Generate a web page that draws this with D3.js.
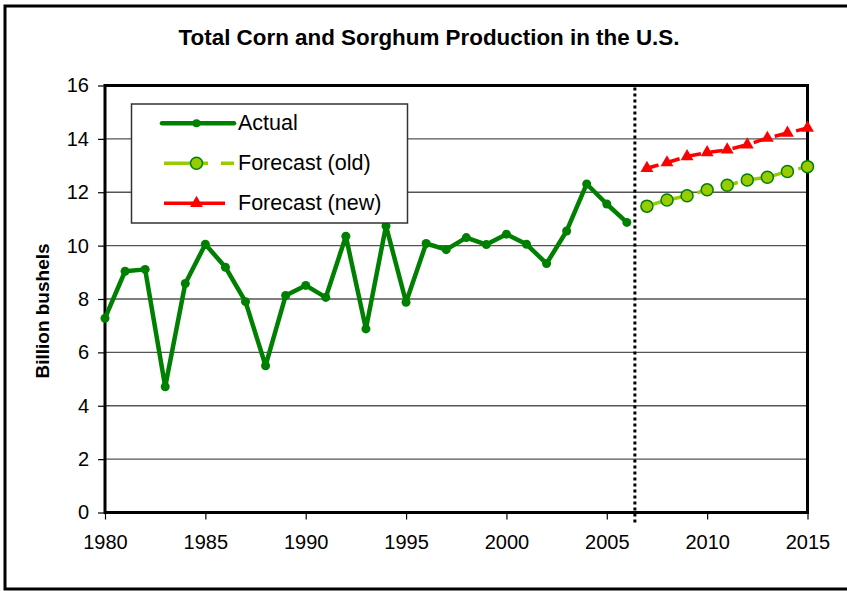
<!DOCTYPE html>
<html>
<head>
<meta charset="utf-8">
<title>Total Corn and Sorghum Production in the U.S.</title>
<script src="https://d3js.org/d3.v7.min.js"></script>
<style>
body { margin: 0; background: #fff; }
text { font-family: "Liberation Sans", Arial, sans-serif; fill: #000; }
</style>
</head>
<body>
<div id="container"></div>
<script>

//----------------------------DATA-------------------------------//
var actualYears = [1980, 1981, 1982, 1983, 1984, 1985, 1986, 1987, 1988, 1989,
                   1990, 1991, 1992, 1993, 1994, 1995, 1996, 1997, 1998, 1999,
                   2000, 2001, 2002, 2003, 2004, 2005, 2006];
var actualValues = [7.28, 9.04, 9.11, 4.71, 8.58, 10.05, 9.19, 7.9, 5.5, 8.13,
                    8.51, 8.06, 10.35, 6.88, 10.74, 7.88, 10.08, 9.85, 10.3, 10.04,
                    10.43, 10.05, 9.33, 10.55, 12.31, 11.56, 10.87];

var forecastYears = [2007, 2008, 2009, 2010, 2011, 2012, 2013, 2014, 2015];
var forecastOld = [11.48, 11.71, 11.87, 12.09, 12.26, 12.46, 12.56, 12.78, 12.96];
var forecastNew = [12.9, 13.11, 13.34, 13.49, 13.59, 13.78, 14.03, 14.22, 14.41];

var xTicks = [1980, 1985, 1990, 1995, 2000, 2005, 2010, 2015];
var yTicks = [0, 2, 4, 6, 8, 10, 12, 14, 16];
var splitYear = 2006.4;

var seriesNames = ["Actual", "Forecast (old)", "Forecast (new)"];

//---------------------------SVG---------------------------------//
var width = 847, height = 591;
var plot = {left: 105, right: 807.5, top: 85.5, bottom: 512.5};

var svg = d3.select("div#container").append("svg")
    .attr("width", width)
    .attr("height", height);

svg.append("rect")
    .attr("width", width).attr("height", height)
    .attr("fill", "#fff");

// outer frame
svg.append("rect")
    .attr("x", 5).attr("y", 6)
    .attr("width", 850).attr("height", 583)
    .attr("fill", "none")
    .attr("stroke", "#000")
    .attr("stroke-width", 3);

//--------------------------SCALES-------------------------------//
var xScale = d3.scaleLinear().domain([1980, 2015]).range([plot.left, plot.right]);
var yScale = d3.scaleLinear().domain([0, 16]).range([plot.bottom, plot.top]);

//--------------------------TITLE--------------------------------//
svg.append("text")
    .attr("x", 429).attr("y", 45)
    .attr("text-anchor", "middle")
    .style("font-size", "22.4px")
    .style("font-weight", "bold")
    .text("Total Corn and Sorghum Production in the U.S.");

svg.append("text")
    .attr("transform", "translate(49,311) rotate(-90)")
    .attr("text-anchor", "middle")
    .style("font-size", "19px")
    .style("font-weight", "bold")
    .text("Billion bushels");

//--------------------------GRID---------------------------------//
svg.append("g")
    .selectAll("line")
    .data(yTicks.slice(1, -1))
    .enter().append("line")
    .attr("x1", plot.left).attr("x2", plot.right)
    .attr("y1", function(d) { return yScale(d); })
    .attr("y2", function(d) { return yScale(d); })
    .attr("stroke", "#555")
    .attr("stroke-width", 1.3);

//--------------------------AXES---------------------------------//
var yaxis = d3.axisLeft(yScale)
    .tickValues(yTicks)
    .tickSize(7)
    .tickPadding(9);

var xaxis = d3.axisBottom(xScale)
    .tickValues(xTicks)
    .tickFormat(d3.format("d"))
    .tickSize(7)
    .tickPadding(15);

var gy = svg.append("g")
    .attr("transform", "translate(" + plot.left + ",0)")
    .call(yaxis);
var gx = svg.append("g")
    .attr("transform", "translate(0," + plot.bottom + ")")
    .call(xaxis);

[gx, gy].forEach(function(g) {
    g.select(".domain").remove();
    g.selectAll(".tick line").attr("stroke", "#000").attr("stroke-width", 1.2);
    g.selectAll(".tick text")
        .style("font-family", "'Liberation Sans', Arial, sans-serif")
        .style("font-size", "20px")
        .attr("fill", "#000");
});

// plot frame
svg.append("rect")
    .attr("x", plot.left).attr("y", plot.top)
    .attr("width", plot.right - plot.left)
    .attr("height", plot.bottom - plot.top)
    .attr("fill", "none")
    .attr("stroke", "#000")
    .attr("stroke-width", 3);

// split between actual and forecast
svg.append("line")
    .attr("x1", xScale(splitYear)).attr("x2", xScale(splitYear))
    .attr("y1", plot.top + 2).attr("y2", plot.bottom + 10)
    .attr("stroke", "#000")
    .attr("stroke-width", 3)
    .attr("stroke-dasharray", "3,3");

//--------------------------LINES--------------------------------//
var actual = actualYears.map(function(y, i) { return {year: y, value: actualValues[i]}; });
var oldF = forecastYears.map(function(y, i) { return {year: y, value: forecastOld[i]}; });
var newF = forecastYears.map(function(y, i) { return {year: y, value: forecastNew[i]}; });

var line = d3.line()
    .x(function(d) { return xScale(d.year); })
    .y(function(d) { return yScale(d.value); });

svg.append("path")
    .attr("d", line(oldF))
    .attr("fill", "none")
    .attr("stroke", "#99cc00")
    .attr("stroke-width", 3.5)
    .attr("stroke-dasharray", "16,10");

svg.append("path")
    .attr("d", line(newF))
    .attr("fill", "none")
    .attr("stroke", "#ff0000")
    .attr("stroke-width", 3.5)
    .attr("stroke-dasharray", "12,10");

svg.append("path")
    .attr("d", line(actual))
    .attr("fill", "none")
    .attr("stroke", "#008000")
    .attr("stroke-width", 4.5)
    .attr("stroke-linejoin", "round");

//--------------------------POINTS-------------------------------//
svg.append("g").selectAll("circle")
    .data(actual)
    .enter().append("circle")
    .attr("cx", function(d) { return xScale(d.year); })
    .attr("cy", function(d) { return yScale(d.value); })
    .attr("r", 4.5)
    .attr("fill", "#008000");

svg.append("g").selectAll("circle")
    .data(oldF)
    .enter().append("circle")
    .attr("cx", function(d) { return xScale(d.year); })
    .attr("cy", function(d) { return yScale(d.value); })
    .attr("r", 6)
    .attr("fill", "#99cc00")
    .attr("stroke", "#008000")
    .attr("stroke-width", 1.5);

var tri = d3.symbol().type(d3.symbolTriangle).size(72);
svg.append("g").selectAll("path")
    .data(newF)
    .enter().append("path")
    .attr("d", tri)
    .attr("transform", function(d) {
        return "translate(" + xScale(d.year) + "," + yScale(d.value) + ")";
    })
    .attr("fill", "#ff0000");

//--------------------------LEGEND-------------------------------//
var legend = svg.append("g");
legend.append("rect")
    .attr("x", 131.5).attr("y", 104)
    .attr("width", 276).attr("height", 119)
    .attr("fill", "#fff")
    .attr("stroke", "#333")
    .attr("stroke-width", 1.5);

var rowY = [123.3, 163.3, 203.3];
var mx = 196.5;

// Actual
legend.append("line")
    .attr("x1", 162).attr("x2", 234).attr("y1", rowY[0]).attr("y2", rowY[0])
    .attr("stroke", "#008000").attr("stroke-width", 4.5).attr("stroke-linecap", "round");
legend.append("circle")
    .attr("cx", mx).attr("cy", rowY[0]).attr("r", 4)
    .attr("fill", "#008000");

// Forecast (old)
legend.append("line")
    .attr("x1", 164).attr("x2", 234).attr("y1", rowY[1]).attr("y2", rowY[1])
    .attr("stroke", "#99cc00").attr("stroke-width", 3.5)
    .attr("stroke-dasharray", "44,13");
legend.append("circle")
    .attr("cx", mx).attr("cy", rowY[1]).attr("r", 6)
    .attr("fill", "#99cc00").attr("stroke", "#008000").attr("stroke-width", 1.5);

// Forecast (new)
legend.append("line")
    .attr("x1", 164).attr("x2", 225).attr("y1", rowY[2]).attr("y2", rowY[2])
    .attr("stroke", "#ff0000").attr("stroke-width", 3.5);
legend.append("path")
    .attr("d", tri)
    .attr("transform", "translate(" + mx + "," + rowY[2] + ")")
    .attr("fill", "#ff0000");

legend.selectAll("text.lbl")
    .data(seriesNames)
    .enter().append("text")
    .attr("class", "lbl")
    .attr("x", 238)
    .attr("y", function(d, i) { return rowY[i] + 7; })
    .style("font-size", "21.5px")
    .text(function(d) { return d; });

</script>
</body>
</html>
